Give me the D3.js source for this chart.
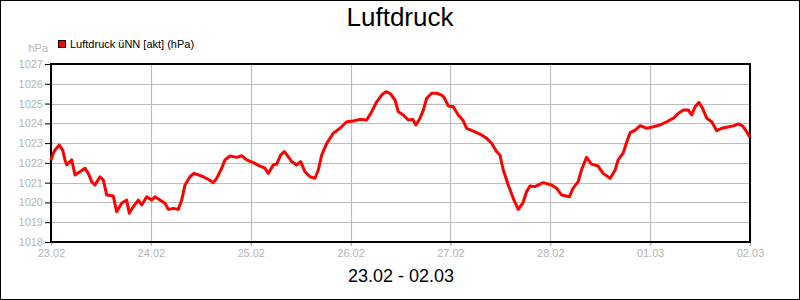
<!DOCTYPE html>
<html>
<head>
<meta charset="utf-8">
<title>Luftdruck</title>
<script src="https://cdn.jsdelivr.net/npm/d3@7"></script>
<style>
	body{ margin:0; background:#fff; }
	svg{ display:block; font-family:"Liberation Sans", Arial, sans-serif; }
</style>
</head>
<body>
<div id="chart"></div>
<script>
// hours since 23.02 00:00
var hours = [0, 0.55, 0.96, 2.0, 2.81, 3.36, 3.77, 4.98, 5.77, 6.97, 8.17, 8.96, 9.78, 10.57, 11.78, 12.57,
	13.39, 14.97, 15.79, 16.99, 18.19, 18.82, 19.78, 20.98, 21.8, 23.0, 24.2, 24.99, 26.2, 27.4, 28.19,
	29.39, 30.6, 31.41, 32.2, 33.41, 34.37, 35.4, 36.6, 37.8, 39.0, 39.82, 41.03, 41.82, 43.02, 44.63,
	45.83, 47.03, 48.62, 50.23, 51.43, 52.23, 53.43, 54.24, 55.21, 56.07, 57.03, 57.85, 59.05, 60.01,
	61.05, 62.25, 63.45, 64.24, 65.06, 66.26, 67.85, 69.46, 71.07, 72.65, 74.26, 75.87, 77.08, 78.28,
	79.48, 80.51, 81.47, 82.68, 83.47, 84.67, 85.87, 86.93, 87.72, 88.69, 89.48, 90.3, 91.5, 92.7, 93.9,
	94.45, 95.49, 96.69, 97.89, 98.95, 99.91, 101.5, 103.1, 104.7, 105.9, 107.1, 107.9, 108.7, 109.9,
	111.1, 112.3, 113.4, 114.3, 115.1, 116.3, 118.3, 120.3, 121.5, 122.7, 124.6, 125.5, 126.7, 127.5,
	128.7, 129.9, 131.5, 132.7, 134.4, 135.6, 136.3, 137.5, 138.4, 139.2, 140.4, 141.6, 143.2, 144.8,
	146.4, 148.0, 149.6, 150.8, 152.0, 153.2, 154.0, 154.8, 155.7, 156.6, 157.6, 158.8, 160.0, 161.2,
	162.4, 164.0, 165.2, 166.2, 167.2, 168];
var pressure = [1022.15, 1022.49, 1022.65, 1022.9, 1022.65, 1022.15, 1021.9, 1022.15, 1021.39, 1021.55,
	1021.73, 1021.47, 1021.05, 1020.88, 1021.3, 1021.14, 1020.38, 1020.33, 1019.53, 1019.96, 1020.12,
	1019.45, 1019.79, 1020.12, 1019.87, 1020.29, 1020.12, 1020.29, 1020.12, 1019.96, 1019.65, 1019.7,
	1019.65, 1020.12, 1020.88, 1021.3, 1021.47, 1021.39, 1021.3, 1021.17, 1021.0, 1021.22, 1021.73,
	1022.15, 1022.35, 1022.28, 1022.36, 1022.15, 1022.01, 1021.84, 1021.73, 1021.47, 1021.9, 1021.94,
	1022.4, 1022.57, 1022.31, 1022.06, 1021.9, 1022.06, 1021.55, 1021.3, 1021.22, 1021.64, 1022.4,
	1022.99, 1023.5, 1023.75, 1024.08, 1024.12, 1024.2, 1024.17, 1024.59, 1025.09, 1025.43, 1025.6,
	1025.52, 1025.18, 1024.59, 1024.42, 1024.17, 1024.2, 1023.92, 1024.26, 1024.67, 1025.27, 1025.52,
	1025.52, 1025.43, 1025.32, 1024.88, 1024.84, 1024.42, 1024.17, 1023.75, 1023.61, 1023.46, 1023.24,
	1022.99, 1022.57, 1022.4, 1021.64, 1020.88, 1020.21, 1019.65, 1019.96, 1020.54, 1020.83, 1020.8,
	1021.0, 1020.88, 1020.72, 1020.38, 1020.29, 1020.72, 1021.05, 1021.64, 1022.28, 1021.94, 1021.84,
	1021.47, 1021.22, 1021.64, 1022.15, 1022.49, 1023.07, 1023.53, 1023.66, 1023.88, 1023.75, 1023.83,
	1023.92, 1024.08, 1024.26, 1024.51, 1024.67, 1024.67, 1024.42, 1024.84, 1025.06, 1024.76, 1024.26,
	1024.08, 1023.63, 1023.75, 1023.8, 1023.87, 1023.97, 1023.87, 1023.58, 1023.29];
var dayTicks = [0, 24, 48, 72, 96, 120, 144, 168];
var dayLabels = ["23.02", "24.02", "25.02", "26.02", "27.02", "28.02", "01.03", "02.03"];
var yTicks = [1018, 1019, 1020, 1021, 1022, 1023, 1024, 1025, 1026, 1027];

var W = 800, H = 300;
var plotL = 51, plotR = 750, plotT = 64, plotB = 242;

var svg = d3.select('#chart').append('svg').attr('width', W).attr('height', H);

svg.append('rect').attr('x', 0.5).attr('y', 0.5).attr('width', W - 1).attr('height', H - 1)
	.attr('fill', '#fff').attr('stroke', '#000');

var x = d3.scaleLinear().domain([0, 168]).range([plotL, plotR]);
var y = d3.scaleLinear().domain([1018, 1027]).range([plotB, plotT]);

// grid
svg.append('g').selectAll('line').data(yTicks).enter().append('line')
	.attr('x1', plotL).attr('x2', plotR)
	.attr('y1', function(d){ return Math.round(y(d)) + 0.5; })
	.attr('y2', function(d){ return Math.round(y(d)) + 0.5; })
	.attr('stroke', '#bcbcbc').attr('stroke-width', 1.2);
svg.append('g').selectAll('line').data(dayTicks).enter().append('line')
	.attr('y1', plotT).attr('y2', plotB + 4)
	.attr('x1', function(d){ return Math.round(x(d)) + 0.5; })
	.attr('x2', function(d){ return Math.round(x(d)) + 0.5; })
	.attr('stroke', '#bcbcbc').attr('stroke-width', 1.2);

// y axis
var yAxis = d3.axisLeft(y).tickValues(yTicks).tickSize(6).tickPadding(2).tickFormat(d3.format('d'));
var gy = svg.append('g').attr('transform', 'translate(' + plotL + ',0)').call(yAxis);
gy.select('.domain').remove();
gy.selectAll('line').attr('stroke', '#000');
gy.selectAll('text').attr('fill', '#b4b4b4').style('font-size', '11px');

// x axis labels
var xAxis = d3.axisBottom(x).tickValues(dayTicks).tickSize(4).tickPadding(3)
	.tickFormat(function(d, i){ return dayLabels[i]; });
var gx = svg.append('g').attr('transform', 'translate(0,' + plotB + ')').call(xAxis);
gx.select('.domain').remove();
gx.selectAll('line').attr('stroke', '#bcbcbc').attr('stroke-width', 1.2);
gx.selectAll('text').attr('fill', '#b4b4b4').style('font-size', '11px');

// frame
svg.append('rect').attr('x', plotL).attr('y', plotT).attr('width', plotR - plotL).attr('height', plotB - plotT)
	.attr('fill', 'none').attr('stroke', '#000').attr('stroke-width', 2);

// data line
var pts = hours.map(function(h, i){ return [h, pressure[i]]; });
var line = d3.line().x(function(d){ return x(d[0]); }).y(function(d){ return y(d[1]); });
svg.append('path').datum(pts).attr('d', line)
	.attr('fill', 'none').attr('stroke', '#ff0000').attr('stroke-width', 3)
	.attr('stroke-linejoin', 'round');

// titles
svg.append('text').attr('x', 400).attr('y', 26).attr('text-anchor', 'middle')
	.style('font-size', '26px').attr('fill', '#000').text('Luftdruck');
svg.append('text').attr('x', 401).attr('y', 282).attr('text-anchor', 'middle')
	.style('font-size', '18px').attr('fill', '#000').text('23.02 - 02.03');
svg.append('text').attr('x', 48).attr('y', 52).attr('text-anchor', 'end')
	.style('font-size', '11px').attr('fill', '#b4b4b4').text('hPa');

// legend
svg.append('rect').attr('x', 58.5).attr('y', 40.5).attr('width', 7).attr('height', 7)
	.attr('fill', '#ff0000').attr('stroke', '#000');
svg.append('text').attr('x', 70).attr('y', 48).style('font-size', '11px').attr('fill', '#000')
	.text('Luftdruck üNN [akt] (hPa)');
</script>
</body>
</html>
